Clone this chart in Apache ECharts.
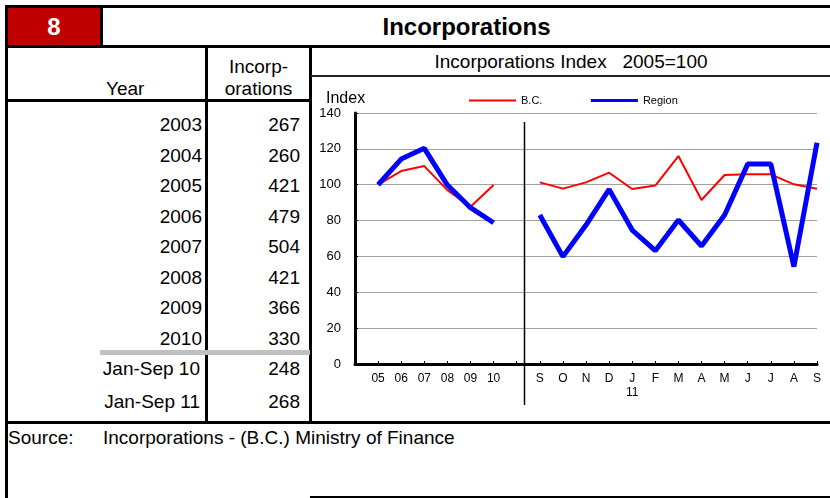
<!DOCTYPE html>
<html>
<head>
<meta charset="utf-8">
<title>Incorporations</title>
<script src="https://cdn.jsdelivr.net/npm/echarts@6/dist/echarts.min.js"></script>
<style>
  body { margin: 0; background: #fff; }
  #wrap { position: relative; width: 830px; height: 498px; overflow: hidden;
          font-family: "Liberation Sans", Arial, sans-serif; color: #000; }
  .ln { position: absolute; background: #000; }
  .txt { position: absolute; font-size: 19px; line-height: 22px; white-space: pre; }
  #main { position: absolute; left: 312px; top: 77px; width: 518px; height: 344px; }
</style>
</head>
<body>
<div id="wrap">
  <!-- frame -->
  <div class="ln" style="left:5px;top:5px;width:825px;height:3px"></div>
  <div class="ln" style="left:5px;top:5px;width:3px;height:493px"></div>
  <div style="position:absolute;left:8px;top:8px;width:92px;height:37px;background:#c00000;color:#fff;font:bold 24px 'Liberation Sans',Arial;line-height:37px;text-align:center">8</div>
  <div class="ln" style="left:100px;top:5px;width:3px;height:42px"></div>
  <div class="txt" style="left:103px;top:8px;width:727px;line-height:37px;text-align:center;font-weight:bold;font-size:24px">Incorporations</div>
  <div class="ln" style="left:5px;top:45px;width:825px;height:3px"></div>
  <div class="ln" style="left:205px;top:46px;width:3px;height:376px"></div>
  <div class="ln" style="left:309px;top:46px;width:3px;height:376px"></div>
  <div class="ln" style="left:5px;top:99px;width:305px;height:3px"></div>
  <div class="ln" style="left:311px;top:75px;width:519px;height:2px;background:#222"></div>
  <div class="ln" style="left:100px;top:350px;width:210px;height:5px;background:#c0c0c0"></div>
  <div class="ln" style="left:5px;top:421px;width:825px;height:3px"></div>
  <div class="ln" style="left:310px;top:496px;width:520px;height:2px"></div>

  <!-- headers -->
  <div class="txt" style="left:106px;top:78px">Year</div>
  <div class="txt" style="left:208px;top:56px;width:101px;text-align:center">Incorp-
orations</div>
  <div class="txt" style="left:312px;top:51px;width:518px;text-align:center">Incorporations Index   2005=100</div>
  <div id="rows"></div>

  <div class="txt" style="left:8px;top:427px">Source:</div>
  <div class="txt" style="left:103px;top:427px" id="src"></div>

  <div id="main"></div>
</div>
<script>
// table data
var tableYears = ['2003', '2004', '2005', '2006', '2007', '2008', '2009', '2010', 'Jan-Sep 10', 'Jan-Sep 11'];
var tableValues = [267, 260, 421, 479, 504, 421, 366, 330, 248, 268];
var sourceText = 'Incorporations - (B.C.) Ministry of Finance';

// chart data (index, 2005=100)
var months = ['', '05', '06', '07', '08', '09', '10', '', 'S', 'O', 'N', 'D', 'J\n11', 'F', 'M', 'A', 'M', 'J', 'J', 'A', 'S'];
var bcIndex = [null, 100, 107.6, 110.4, 97, 87.7, 99.8, null, 101.3, 97.8, 101.3, 106.7, 97.6, 99.5, 116, 91.5, 105.4, 105.8, 105.8, 100.2, 97.8];
var regionIndex = [null, 100, 114.3, 120.3, 99.8, 87.2, 78.8, null, 83.1, 59.9, 77.5, 97.4, 74.7, 63.2, 80.3, 65.8, 83.1, 111.5, 111.5, 54.3, 123.4];

// build the table rows
var html = '';
for (var i = 0; i < tableYears.length; i++) {
    var rowCenter = i < 8 ? 125 + i * 30.5 : 369 + (i - 8) * 33;
    var rowTop = rowCenter - 11;
    var yearLeft = i < 8 ? 8 : 6;
    html += '<div class="txt" style="left:' + yearLeft + 'px;width:194px;text-align:right;top:' + rowTop + 'px">' + tableYears[i] + '</div>';
    html += '<div class="txt" style="left:212px;width:88px;text-align:right;top:' + rowTop + 'px">' + tableValues[i] + '</div>';
}
document.getElementById('rows').innerHTML = html;
document.getElementById('src').textContent = sourceText;

var myChart = echarts.init(document.getElementById('main'));
myChart.setOption({
    animation: false,
    textStyle: { fontFamily: 'Liberation Sans, Arial, sans-serif', color: '#000' },
    title: {
        text: 'Index',
        left: 14,
        top: 14,
        padding: 0,
        textStyle: { fontSize: 16, fontWeight: 'normal', color: '#000' }
    },
    legend: {
        left: 156,
        top: 18,
        padding: 0,
        itemWidth: 47,
        itemHeight: 3,
        itemGap: 47,
        itemStyle: { opacity: 0 },
        textStyle: { fontSize: 11, color: '#000' },
        data: [
            { name: 'B.C.', lineStyle: { width: 2 } },
            { name: 'Region', lineStyle: { width: 3 } }
        ]
    },
    grid: { left: 43, right: 13, top: 36, bottom: 57, outerBoundsMode: 'none' },
    xAxis: {
        type: 'category',
        data: months,
        boundaryGap: false,
        axisLine: { lineStyle: { color: '#000', width: 3 } },
        axisTick: { inside: true, length: 3, lineStyle: { color: '#000' } },
        axisLabel: { interval: 0, fontSize: 12, lineHeight: 14, margin: 8, color: '#000' },
        splitLine: { show: false }
    },
    yAxis: {
        type: 'value',
        min: 0,
        max: 140,
        interval: 20,
        axisLine: { show: true, lineStyle: { color: '#000', width: 3 } },
        axisTick: { show: true, inside: true, length: 3, lineStyle: { color: '#000' } },
        axisLabel: { fontSize: 13, margin: 14, color: '#000' },
        splitLine: { lineStyle: { color: '#a0a0a0', width: 1 } }
    },
    series: [
        {
            name: 'B.C.',
            type: 'line',
            data: bcIndex,
            symbol: 'none',
            color: '#ff0000',
            lineStyle: { color: '#ff0000', width: 2 }
        },
        {
            name: 'Region',
            type: 'line',
            data: regionIndex,
            symbol: 'none',
            color: '#0000ff',
            lineStyle: { color: '#0000ff', width: 5 }
        }
    ]
});

// divider between annual and monthly parts
var xa = myChart.convertToPixel({ xAxisIndex: 0 }, 7);
var xb = myChart.convertToPixel({ xAxisIndex: 0 }, 8);
var xd = Math.round(xa + (xb - xa) * 0.3) + 0.5;
myChart.setOption({
    graphic: [{
        type: 'line',
        shape: { x1: xd, y1: 45, x2: xd, y2: 328 },
        style: { stroke: '#000', lineWidth: 1.5 },
        z: 10
    }]
});
</script>
</body>
</html>
